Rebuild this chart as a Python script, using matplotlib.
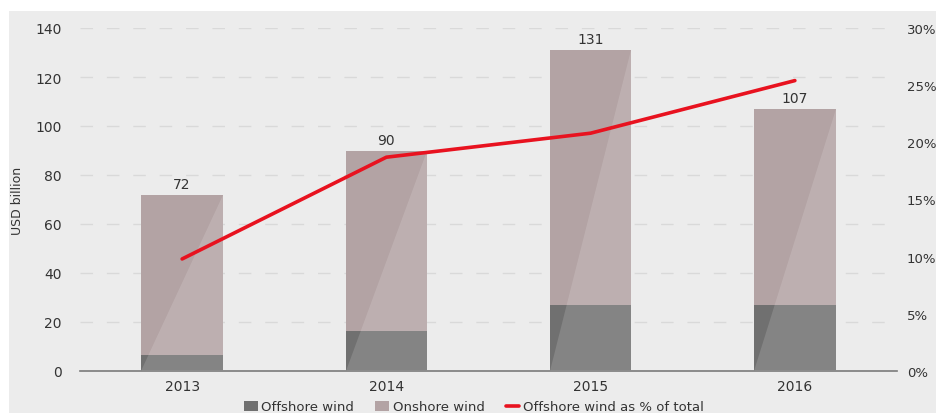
import numpy as np
import matplotlib.pyplot as plt
from matplotlib.patches import Rectangle, Polygon

## data
years = ['2013', '2014', '2015', '2016']
offshore = [6.5, 16.5, 27, 27]
onshore = [65.5, 73.5, 104, 80]
totals = [72, 90, 131, 107]
offshore_pct = [9.8, 18.7, 20.8, 25.4]
left_ticks = [0, 20, 40, 60, 80, 100, 120, 140]
right_ticks = [0, 5, 10, 15, 20, 25, 30]

plt.rcParams['font.family'] = ['DejaVu Sans']
txt = '#333333'

fig = plt.figure(figsize=(9.37, 4.14), dpi=100)
fig.patch.set_facecolor('white')
fig.patches.append(Rectangle((9/937, 0), 1, 1 - 12/414, transform=fig.transFigure,
	facecolor='#ececec', edgecolor='none', zorder=-10))

ax = fig.add_axes([80/937, 42/414, 817/937, 343/414])
ax.set_facecolor('none')
x = np.arange(len(years))
w = 0.4

ax.bar(x, offshore, w, color='#707070', zorder=2, label='Offshore wind')
ax.bar(x, onshore, w, bottom=offshore, color='#b3a3a4', zorder=2, label='Onshore wind')
## lighter triangle, bottom-left to top-right corner of each bar
for xi, t in zip(x, totals):
	ax.add_patch(Polygon([(xi - w/2, 0), (xi + w/2, 0), (xi + w/2, t)], closed=True,
		facecolor='white', alpha=0.14, edgecolor='none', zorder=3))
for xi, t in zip(x, totals):
	ax.text(xi, t + 1.5, str(t), ha='center', va='bottom', fontsize=10, color=txt)

ax.set_xlim(-0.5, 3.5)
ax.set_ylim(0, 140)
ax.set_yticks(left_ticks)
ax.set_xticks(x)
ax.set_xticklabels(years)
ax.tick_params(axis='both', length=0, labelsize=10, colors=txt)
ax.tick_params(axis='y', pad=13)
ax.tick_params(axis='x', pad=6)
for t in left_ticks[1:]:
	ax.axhline(t, color='#d9d9d9', lw=0.95, ls=(0, (9.5, 10.5)), zorder=0)
for s in ['top', 'right', 'left']:
	ax.spines[s].set_visible(False)
ax.spines['bottom'].set_color('#7a7a7a')
ax.spines['bottom'].set_linewidth(1.2)
ax.set_ylabel('USD billion', fontsize=9, color=txt, labelpad=8)

ax2 = ax.twinx()
ax2.plot(x, offshore_pct, color='#e8121f', lw=2.6, zorder=5, label='Offshore wind as % of total',
	solid_capstyle='round')
ax2.set_ylim(0, 30)
ax2.set_yticks(right_ticks)
ax2.set_yticklabels([f'{t}%' for t in right_ticks])
ax2.tick_params(axis='y', length=0, labelsize=9.5, colors=txt, pad=7)
for s in ax2.spines.values():
	s.set_visible(False)

h1, l1 = ax.get_legend_handles_labels()
h2, l2 = ax2.get_legend_handles_labels()
fig.legend(h1 + h2, l1 + l2, loc='center', bbox_to_anchor=(474/937, 1 - 408/414), ncol=3,
	frameon=False, fontsize=9.5, handlelength=1.0, handleheight=0.7, columnspacing=1.6,
	handletextpad=0.3, labelcolor=txt)

fig.savefig('out.png', dpi=100)
